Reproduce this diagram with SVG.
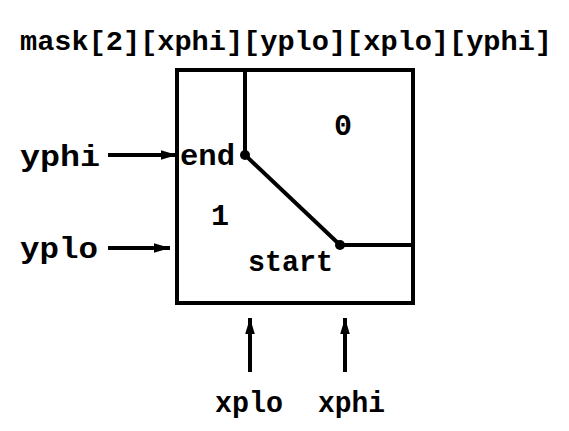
<svg xmlns="http://www.w3.org/2000/svg" width="569" height="431" viewBox="0 0 569 431">
<style>
text{font-family:"Liberation Mono","DejaVu Sans Mono",monospace;font-weight:bold;font-size:30px;fill:#000}
.t{font-size:28px}
.ln{stroke:#000;stroke-width:4;fill:none}
</style>
<defs>
<marker id="ah" viewBox="0 0 10 6" refX="10" refY="3" markerWidth="6" markerHeight="2.4" markerUnits="strokeWidth" orient="auto">
<path d="M0,0 L10,3 L0,6 z" fill="#000"/>
</marker>
</defs>
<rect width="569" height="431" fill="#fff"/>
<text class="t" x="20" y="50" textLength="532" lengthAdjust="spacingAndGlyphs">mask[2][xphi][yplo][xplo][yphi]</text>
<g id="box">
<rect class="ln" x="177" y="70" width="236" height="233"/>
<polyline class="ln" points="245,70 245,155 340,245 413,245"/>
<circle cx="245" cy="155" r="5" fill="#000"/>
<circle cx="340" cy="245" r="5" fill="#000"/>
<text x="334" y="135">0</text>
<text x="211" y="225">1</text>
<text x="180" y="165" textLength="55" lengthAdjust="spacingAndGlyphs">end</text>
<text x="248" y="271" textLength="85" lengthAdjust="spacingAndGlyphs">start</text>
</g>
<g id="labels">
<text x="20" y="166" textLength="80" lengthAdjust="spacingAndGlyphs">yphi</text>
<text x="20" y="258" textLength="78" lengthAdjust="spacingAndGlyphs">yplo</text>
<text x="215" y="412" textLength="68" lengthAdjust="spacingAndGlyphs">xplo</text>
<text x="318" y="412" textLength="67" lengthAdjust="spacingAndGlyphs">xphi</text>
</g>
<g id="connectors">
<line class="ln" x1="108" y1="155" x2="177" y2="155" marker-end="url(#ah)"/>
<line class="ln" x1="108" y1="248" x2="170" y2="248" marker-end="url(#ah)"/>
<line class="ln" x1="250" y1="372" x2="250" y2="318" marker-end="url(#ah)"/>
<line class="ln" x1="345" y1="372" x2="345" y2="318" marker-end="url(#ah)"/>
</g>
</svg>
